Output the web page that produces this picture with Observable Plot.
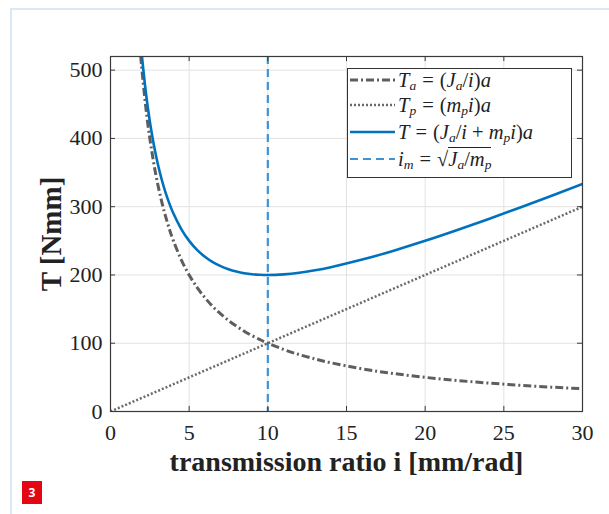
<!DOCTYPE html>
<html>
<head>
<meta charset="utf-8">
<script src="https://cdn.jsdelivr.net/npm/d3@7"></script>
<script src="https://cdn.jsdelivr.net/npm/@observablehq/plot@0.6"></script>
<style>
  html, body { margin: 0; padding: 0; background: #fff; }
  #wrap { position: relative; width: 609px; height: 514px; overflow: hidden; }
  #card { position: absolute; left: 10px; top: 8px; width: 610px; height: 520px;
          border-left: 2px solid #dbe8f5; border-top: 2px solid #dbe8f5; box-sizing: border-box; }
  #chart { position: absolute; left: 0; top: 0; }
  #badge { position: absolute; left: 22px; top: 481px; width: 20px; height: 23px; background: #e30613;
           color: #fff; font: bold 12px "Open Sans", sans-serif; text-align: center; line-height: 23px; }
  #legend { position: absolute; left: 347px; top: 68px; width: 225px; height: 110px; box-sizing: border-box;
            border: 1px solid #333; background: #fff; font-family: "Liberation Serif", serif; font-size: 20.5px; color: #222; }
  .row { position: absolute; left: 0; height: 22px; white-space: nowrap; }
  .row svg { position: absolute; left: 2px; top: 0; }
  .row .t { position: absolute; left: 50px; top: 0; line-height: 22px; height: 22px; display: block; }
  .row sub { font-size: 13.5px; vertical-align: -3px; line-height: 0; }
  .op { margin: 0 6px; }
  .pl { margin: 0 5px; }
  .sq { border-top: 1px solid #222; padding-top: 0px; }
</style>
</head>
<body>
<div id="wrap">
  <div id="card"></div>
  <div id="chart"></div>
  <div id="legend"></div>
  <div id="badge">3</div>
</div>
<script>
// ---- data ----
const iVals  = [1.92, 2, 2.25, 2.5, 2.75, 3, 3.25, 3.5, 3.75, 4, 4.5, 5, 5.5, 6, 6.5, 7, 7.5, 8, 8.5, 9, 9.5, 10, 11, 12, 13, 14, 16, 18, 20, 22, 24, 26, 28, 30];
const TaVals = [520.8, 500, 444.4, 400, 363.6, 333.3, 307.7, 285.7, 266.7, 250, 222.2, 200, 181.8, 166.7, 153.8, 142.9, 133.3, 125, 117.6, 111.1, 105.3, 100, 90.9, 83.3, 76.9, 71.4, 62.5, 55.6, 50, 45.5, 41.7, 38.5, 35.7, 33.3];
const TVals  = [540, 520, 466.9, 425, 391.1, 363.3, 340.2, 320.7, 304.2, 290, 267.2, 250, 236.8, 226.7, 218.8, 212.9, 208.3, 205, 202.6, 201.1, 200.3, 200, 200.9, 203.3, 206.9, 211.4, 222.5, 235.6, 250, 265.5, 281.7, 298.5, 315.7, 333.3];
const TpI    = [0, 30];
const TpVals = [0, 300];
const iM     = [10];
const xTicks = [0, 5, 10, 15, 20, 25, 30];
const yTicks = [0, 100, 200, 300, 400, 500];
const legendLabels = ["Ta", "Tp", "T", "im"];

const taData = iVals.map((x, k) => ({x, y: TaVals[k]}));
const tData  = iVals.map((x, k) => ({x, y: TVals[k]}));
const tpData = TpI.map((x, k) => ({x, y: TpVals[k]}));

const serif = '"Liberation Serif", serif';
const axisCol = "#3a3a3a";
const cTa = "#5e5e5e", cTp = "#6a6a6a", cT = "#0072BD", cIm = "#3f93d4";

const plot = Plot.plot({
  width: 609, height: 514,
  marginLeft: 110, marginRight: 27, marginTop: 56, marginBottom: 103,
  style: {fontFamily: serif, background: "transparent", overflow: "visible"},
  x: {domain: [0, 30]},
  y: {domain: [0, 520]},
  marks: [
    Plot.gridX(xTicks, {stroke: "#e2e2e2", strokeOpacity: 1}),
    Plot.gridY(yTicks, {stroke: "#e2e2e2", strokeOpacity: 1}),
    Plot.ruleX(iM, {stroke: cIm, strokeWidth: 2.2, strokeDasharray: "8,5"}),
    Plot.line(tpData, {x: "x", y: "y", stroke: cTp, strokeWidth: 2.5, strokeDasharray: "2,2", strokeLinecap: "butt", clip: true}),
    Plot.line(taData, {x: "x", y: "y", stroke: cTa, strokeWidth: 3, strokeDasharray: "8,3,2,3", strokeLinecap: "butt", curve: "natural", clip: true}),
    Plot.line(tData, {x: "x", y: "y", stroke: cT, strokeWidth: 2.6, curve: "natural", clip: true}),
    Plot.frame({stroke: axisCol, strokeWidth: 1.2}),
    // inward ticks
    Plot.ruleX(xTicks, {y1: 0, y2: 7.5, stroke: axisCol, strokeWidth: 1}),
    Plot.ruleX(xTicks, {y1: 512.5, y2: 520, stroke: axisCol, strokeWidth: 1}),
    Plot.ruleY(yTicks, {x1: 0, x2: 0.32, stroke: axisCol, strokeWidth: 1}),
    Plot.ruleY(yTicks, {x1: 29.68, x2: 30, stroke: axisCol, strokeWidth: 1}),
    Plot.axisX(xTicks, {tickSize: 0, tickPadding: 13, fontSize: 22, fontFamily: serif, fill: "#222", label: null}),
    Plot.axisY(yTicks, {tickSize: 0, tickPadding: 8, fontSize: 22, fontFamily: serif, fill: "#222", label: null}),
    Plot.text(["transmission ratio i [mm/rad]"], {frameAnchor: "bottom", dy: 59, fontSize: 28, fontWeight: "bold", fontFamily: serif, fill: "#222"}),
    Plot.text(["T [Nmm]"], {frameAnchor: "left", textAnchor: "middle", dx: -59, rotate: -90, fontSize: 29, fontWeight: "bold", fontFamily: serif, fill: "#222"})
  ]
});
document.getElementById("chart").appendChild(plot);

// legend
const sub = s => `<sub><i>${s}</i></sub>`;
const eq = `<span class="op">=</span>`;
const legendItems = [
  {key: legendLabels[0], color: cTa, w: 3, dash: "8,3,2,3", html: `<i>T</i>${sub("a")}${eq}(<i>J</i>${sub("a")}/<i>i</i>)<i>a</i>`},
  {key: legendLabels[1], color: cTp, w: 2.5, dash: "2,2", html: `<i>T</i>${sub("p")}${eq}(<i>m</i>${sub("p")}<i>i</i>)<i>a</i>`},
  {key: legendLabels[2], color: cT, w: 2.6, dash: null, html: `<i>T</i>${eq}(<i>J</i>${sub("a")}/<i>i</i><span class="pl">+</span><i>m</i>${sub("p")}<i>i</i>)<i>a</i>`},
  {key: legendLabels[3], color: cIm, w: 2.2, dash: "8,5", html: `<i>i</i>${sub("m")}${eq}√<span class="sq"><i>J</i>${sub("a")}/<i>m</i>${sub("p")}</span>`}
];
const leg = document.getElementById("legend");
const rowTops = [0, 25, 52, 79];
legendItems.forEach((it, k) => {
  const row = document.createElement("div");
  row.className = "row";
  row.style.top = rowTops[k] + "px";
  row.innerHTML = `<svg width="48" height="22"><line x1="0" x2="45" y1="11" y2="11" stroke="${it.color}" stroke-width="${it.w}" stroke-linecap="butt" ${it.dash ? `stroke-dasharray="${it.dash}"` : ""}/></svg><span class="t">${it.html}</span>`;
  leg.appendChild(row);
});
</script>
</body>
</html>
